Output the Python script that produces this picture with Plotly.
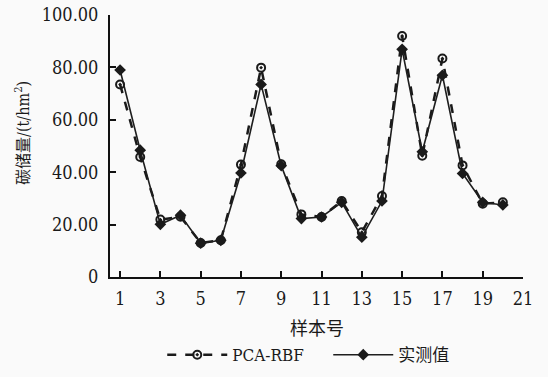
import plotly.graph_objects as go

samples = list(range(1, 21))
pca_rbf = [73.5, 45.8, 21.9, 23.0, 13.0, 14.0, 42.9, 79.9, 43.0, 23.9,
           22.9, 29.0, 17.1, 30.9, 92.0, 46.3, 83.4, 42.6, 28.0, 28.5]
measured = [79.0, 48.4, 20.1, 23.6, 12.9, 14.0, 39.7, 73.5, 42.5, 22.3,
            22.9, 28.5, 15.2, 29.0, 86.9, 47.8, 77.0, 39.5, 28.5, 27.5]

x_ticks = list(range(1, 22, 2))
y_ticks = [0, 20, 40, 60, 80, 100]
y_ticktext = ["0", "20.00", "40.00", "60.00", "80.00", "100.00"]

serif_cond = "DejaVu Serif Condensed, DejaVu Serif"
serif = "DejaVu Serif"
cjk = "Noto Sans CJK SC"

fig = go.Figure()
fig.add_trace(go.Scatter(
    x=samples, y=pca_rbf, name="PCA-RBF\u00a0\u00a0\u00a0\u00a0", mode="lines+markers",
    line=dict(color="#1a1a1a", width=2.5, dash="dash"),
    marker=dict(symbol="circle-open-dot", size=8, color="#1a1a1a",
                line=dict(width=2, color="#1a1a1a")),
    cliponaxis=False,
))
fig.add_trace(go.Scatter(
    x=samples, y=measured, name="实测值", mode="lines+markers",
    line=dict(color="#1e1e1e", width=1.6),
    marker=dict(symbol="diamond", size=9, color="#1a1a1a"),
    cliponaxis=False,
))

fig.update_layout(
    width=548, height=377,
    margin=dict(l=110, r=25, t=15, b=100, autoexpand=False),
    paper_bgcolor="#fafafa", plot_bgcolor="#fafafa",
    showlegend=True,
    legend=dict(orientation="h", x=0.48, xanchor="center",
                yref="container", y=0.058, yanchor="middle",
                font=dict(family=serif_cond + ", " + cjk, size=17, color="#1a1a1a"),
                bgcolor="rgba(0,0,0,0)", itemwidth=60, tracegroupgap=0),
    font=dict(family=serif, color="#1a1a1a"),
)
fig.update_xaxes(
    range=[0.5, 21], tickvals=x_ticks, ticktext=[str(v) for v in x_ticks],
    ticks="inside", ticklen=6, tickwidth=2, tickcolor="#111",
    showline=True, linecolor="#111", linewidth=2, showgrid=False, zeroline=False,
    tickfont=dict(family=serif_cond, size=18, color="#1a1a1a"), ticklabelstandoff=4,
)
fig.update_yaxes(
    range=[0, 100], tickvals=y_ticks, ticktext=y_ticktext,
    ticks="inside", ticklen=6, tickwidth=2, tickcolor="#111",
    showline=True, linecolor="#111", linewidth=2, showgrid=False, zeroline=False,
    tickfont=dict(family=serif_cond, size=18, color="#1a1a1a"), ticklabelstandoff=6,
)
fig.add_annotation(
    text="碳储量/(t/hm<sup>2</sup>)", xref="paper", yref="paper",
    x=0, y=0.55, xshift=-87, textangle=-90, showarrow=False,
    xanchor="center", yanchor="middle",
    font=dict(family=serif_cond + ", " + cjk, size=16, color="#1a1a1a"),
)
fig.add_annotation(
    text="样本号", xref="paper", yref="paper",
    x=0.5, y=0, yshift=-50, showarrow=False,
    xanchor="center", yanchor="middle",
    font=dict(family=cjk, size=18, color="#1a1a1a"),
)

fig.write_html("out.html", config={"displayModeBar": False},
               post_script="document.body.style.margin='0';")
